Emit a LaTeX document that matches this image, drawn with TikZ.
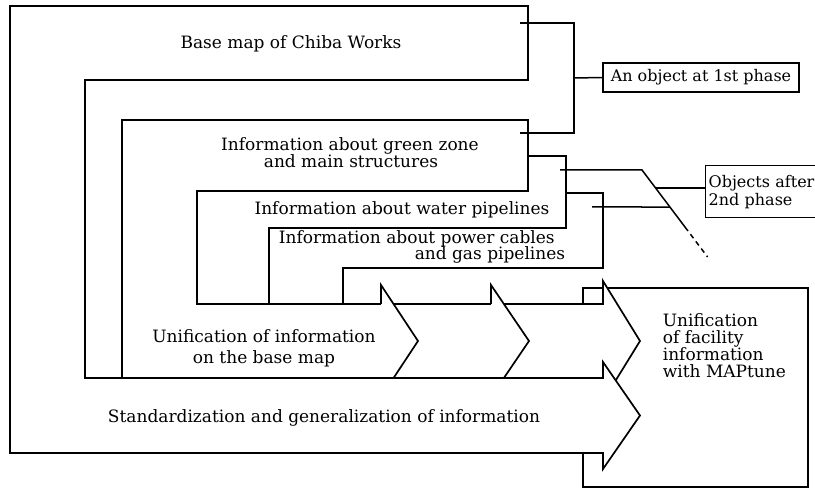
\documentclass[tikz,border=0pt]{standalone}
\usepackage{fontspec}
\setmainfont{DejaVu Serif}
\usetikzlibrary{calc}
\begin{document}
\begin{tikzpicture}[x=1pt, y=-1pt, line width=1.7pt, line join=miter,
  layer/.style={draw=black, fill=white},
  txt/.style={font=\fontsize{17}{18}\selectfont, inner sep=0pt},
  tag/.style={draw=black, line width=1.3pt, font=\fontsize{16}{18}\selectfont},
  link/.style={line width=1.5pt}]
\useasboundingbox (0,0) rectangle (815,489);
\clip (0,0) rectangle (815,489);
\fill[white] (0,0) rectangle (815,489);

% target box on the right
\draw[layer] (583,288) rectangle (808,487);

% stacked layer cards, back to front
\draw[layer] (269,193) -- (603,193) -- (603,268) -- (343,268) -- (343,304) -- (269,304) -- cycle;
\draw[layer] (197,156) -- (566,156) -- (566,228) -- (269,228) -- (269,304) -- (197,304) -- cycle;
\draw[layer] (122,120) -- (528,120) -- (528,191) -- (197,191) -- (197,304) -- (603,304)
  -- (603,281) -- (640,341) -- (603,401) -- (603,378) -- (122,378) -- cycle;

% chevrons inside the unification band
\fill[white] (491,285) -- (529,341) -- (491,397) -- cycle;
\draw (491,304) -- (491,285) -- (529,341) -- (491,397);
\fill[white] (381,285) -- (418,341) -- (381,397) -- cycle;
\draw (381,304) -- (381,285) -- (418,341) -- (381,397);

% outermost frame with the standardization arrow
\draw[layer] (10,6) -- (528,6) -- (528,80) -- (85,80) -- (85,378) -- (603,378)
  -- (603,362) -- (640,415.5) -- (603,469) -- (603,453) -- (10,453) -- cycle;

% phase labels
\node[tag, inner sep=0pt, minimum width=196pt, minimum height=29pt] (obj1) at (701,77.5) {An object at 1st phase};
\node[tag, anchor=north west, align=left, text width=144pt, inner xsep=3pt, inner ysep=0pt,
  minimum height=52pt] (obj2) at (705,165) {Objects after\\2nd phase};

% bracket for the first phase
\coordinate (bmc) at (520,23);
\coordinate (gzc) at (520,133);
\coordinate (brx) at (574,78);
\draw[link] (bmc) -| (brx) |- (gzc);
\draw[link] (brx) -- (obj1.west);

% bracket for the second phase
\coordinate (wpc) at (560,170);
\coordinate (pcc) at (592,207);
\coordinate (s1) at (642,170);
\coordinate (s2) at (688,231);
\coordinate (s3) at (707.6,257);
\coordinate (m1) at ($(s1)!0.295!(s2)$);
\coordinate (m2) at ($(s1)!0.6066!(s2)$);
\draw[link] (wpc) -- (s1) -- (s2);
\draw[link, dash pattern=on 5pt off 4pt, dash phase=5pt] (s2) -- (s3);
\draw[link] (pcc) -- (m2);
\draw[link] (m1) -- (m1 -| obj2.west);

% texts
\node[txt, anchor=base] (bm) at (291,49) {Base map of Chiba Works};
\node[txt, anchor=base] (gz1) at (350,151) {Information about green zone};
\node[txt, anchor=base] (gz2) at (351,168) {and main structures};
\node[txt, anchor=base] (wp) at (402,215) {Information about water pipelines};
\node[txt, anchor=base west] (pc1) at (278,244) {Information about power cables};
\node[txt, anchor=base east] (pc2) at (566,260) {and gas pipelines};
\node[txt, anchor=base] (un1) at (264,343) {Unification of information};
\node[txt, anchor=base] (un2) at (264,363) {on the base map};
\node[txt, anchor=base] (sg) at (324,423) {Standardization and generalization of information};
\node[txt, anchor=base west] (mt1) at (662,327) {Unification};
\node[txt, anchor=base west] (mt2) at (662,344) {of facility};
\node[txt, anchor=base west] (mt3) at (662,361) {information};
\node[txt, anchor=base west] (mt4) at (662,378) {with MAPtune};
\end{tikzpicture}
\end{document}
